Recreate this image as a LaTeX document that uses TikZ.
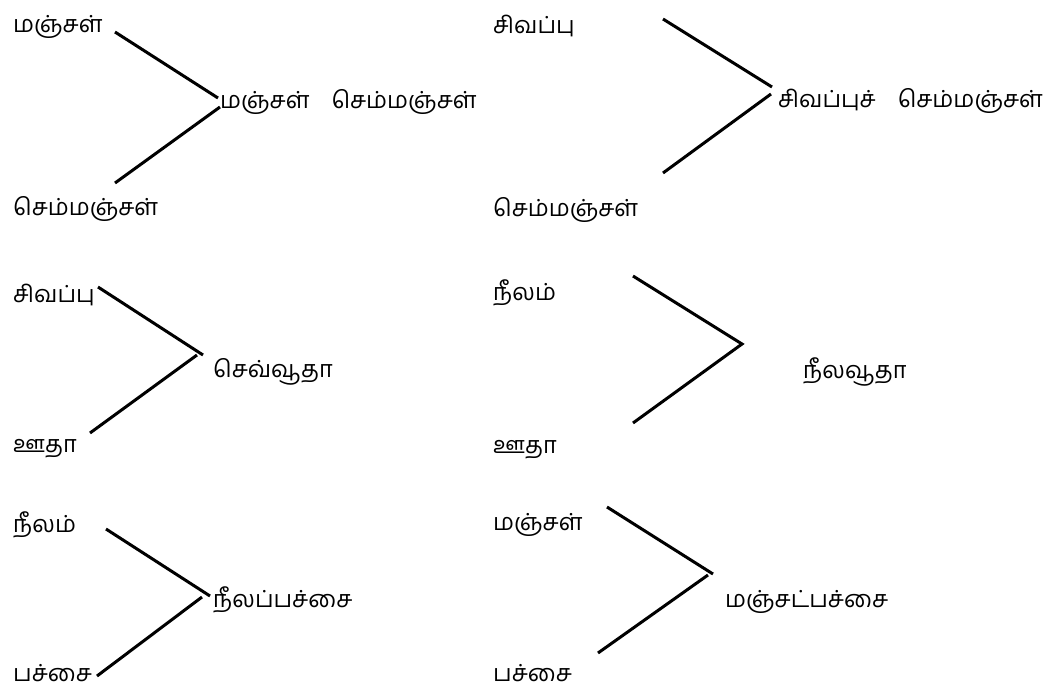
\documentclass[tikz,border=0pt]{standalone}
\usepackage{fontspec}
\newfontfamily\tamil[Script=Tamil]{Hind Madurai}
\begin{document}
\begin{tikzpicture}[x=1pt,y=-1pt,
  lbl/.style={anchor=base west,inner sep=0pt,font=\tamil\fontsize{23.5}{26}\selectfont},
  link/.style={line width=3pt,line cap=butt}]
\useasboundingbox[fill=white] (0,0) rectangle (1058,689);
% ---- top left
\node[lbl] (a1) at (13,32) {மஞ்சள்};
\node[lbl] (a2) at (13,215) {செம்மஞ்சள்};
\node[lbl] (a3) at (220,108) {மஞ்சள்\hspace{22pt}செம்மஞ்சள்};
\coordinate (a1s) at (115,32); \coordinate (a1e) at (218,98);
\coordinate (a2s) at (115,183); \coordinate (a2e) at (220,107);
\draw[link] (a1s) -- (a1e);
\draw[link] (a2s) -- (a2e);
% ---- top right
\node[lbl] (b1) at (493,33) {சிவப்பு};
\node[lbl] (b2) at (493,216) {செம்மஞ்சள்};
\node[lbl] (b3) at (778,107) {சிவப்புச்\hspace{22pt}செம்மஞ்சள்};
\coordinate (b1s) at (663,19); \coordinate (b1e) at (772,87);
\coordinate (b2s) at (663,173); \coordinate (b2e) at (771,94);
\draw[link] (b1s) -- (b1e);
\draw[link] (b2s) -- (b2e);
% ---- middle left
\node[lbl] (c1) at (13,302) {சிவப்பு};
\node[lbl] (c2) at (13,452) {ஊதா};
\node[lbl] (c3) at (213,377) {செவ்வூதா};
\coordinate (c1s) at (98,287); \coordinate (c1e) at (203,355);
\coordinate (c2s) at (90,433); \coordinate (c2e) at (197,355);
\draw[link] (c1s) -- (c1e);
\draw[link] (c2s) -- (c2e);
% ---- middle right
\node[lbl] (d1) at (493,300) {நீலம்};
\node[lbl] (d2) at (493,453) {ஊதா};
\node[lbl] (d3) at (803,378) {நீலவூதா};
\coordinate (d1s) at (633,276); \coordinate (dapex) at (742,344);
\coordinate (d2s) at (633,423);
\draw[link,line join=miter] (d1s) -- (dapex) -- (d2s);
% ---- bottom left
\node[lbl] (e1) at (13,532) {நீலம்};
\node[lbl] (e2) at (13,681) {பச்சை};
\node[lbl] (e3) at (213,607) {நீலப்பச்சை};
\coordinate (e1s) at (106,529); \coordinate (e1e) at (210,596);
\coordinate (e2s) at (97,676); \coordinate (e2e) at (202,597);
\draw[link] (e1s) -- (e1e);
\draw[link] (e2s) -- (e2e);
% ---- bottom right
\node[lbl] (f1) at (493,530) {மஞ்சள்};
\node[lbl] (f2) at (493,681) {பச்சை};
\node[lbl] (f3) at (725,607) {மஞ்சட்பச்சை};
\coordinate (f1s) at (607,507); \coordinate (f1e) at (713,574);
\coordinate (f2s) at (598,653); \coordinate (f2e) at (708,575);
\draw[link] (f1s) -- (f1e);
\draw[link] (f2s) -- (f2e);
\end{tikzpicture}
\end{document}
